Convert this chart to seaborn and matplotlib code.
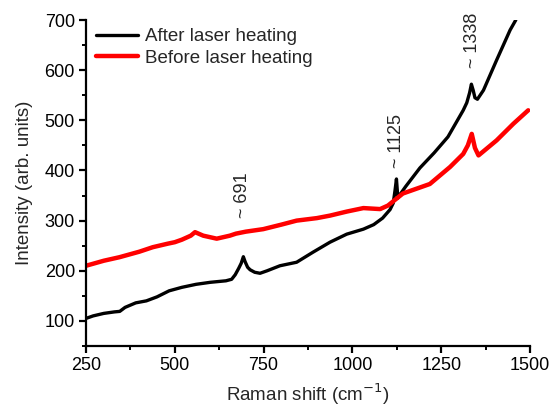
import matplotlib
matplotlib.use("Agg")
import matplotlib.pyplot as plt
from matplotlib.ticker import MultipleLocator
import seaborn as sns
import pandas as pd

after_x = [250, 270, 300, 330, 345, 360, 390, 420, 450, 484, 520, 560, 600, 644, 660, 670,
           680, 687, 693, 698, 705, 712, 725, 740, 760, 796, 843, 889, 937, 984, 1031, 1060,
           1085, 1106, 1115, 1120, 1124, 1128, 1134, 1150, 1190, 1230, 1269, 1312, 1322, 1330,
           1335, 1340, 1345, 1352, 1369, 1406, 1444, 1460]
after_y = [105, 110, 115, 118, 119, 127, 136, 140, 148, 160, 167, 173, 177, 180, 183, 192,
           205, 215, 228, 218, 207, 202, 197, 195, 200, 210, 217, 237, 257, 273, 283, 292,
           305, 322, 335, 360, 383, 345, 352, 368, 405, 435, 467, 520, 535, 555,
           572, 560, 545, 542, 560, 620, 680, 700]

before_x = [250, 300, 344, 400, 438, 480, 500, 520, 545, 557, 580, 618, 655, 672, 700, 749,
            800, 843, 900, 937, 984, 1031, 1078, 1100, 1142, 1218, 1275, 1312, 1325, 1336,
            1345, 1355, 1406, 1453, 1495]
before_y = [210, 220, 227, 238, 247, 254, 257, 262, 270, 277, 270, 264, 270, 274, 278, 283,
            292, 300, 305, 310, 318, 325, 323, 330, 354, 373, 407, 433, 450, 473,
            445, 430, 460, 493, 520]

labels = ["After laser heating", "Before laser heating"]
peak_labels = ["~ 691", "~ 1125", "~ 1338"]
peak_x = [691, 1125, 1338]
peak_y = [305, 405, 604]

sns.set_theme(style="ticks")
plt.rcParams["font.family"] = ["Liberation Sans", "DejaVu Sans"]

df_a = pd.DataFrame({"x": after_x, "y": after_y})
df_b = pd.DataFrame({"x": before_x, "y": before_y})

fig = plt.figure(figsize=(5.56, 4.07), dpi=100)
ax = fig.add_axes([86/556, 1-346/407, 444/556, 326/407])

sns.lineplot(data=df_a, x="x", y="y", ax=ax, color="black", linewidth=2.4, label=labels[0])
sns.lineplot(data=df_b, x="x", y="y", ax=ax, color="#ff0000", linewidth=3.2, label=labels[1])

ax.set_xlim(250, 1500)
ax.set_ylim(50, 700)
ax.xaxis.set_major_locator(MultipleLocator(250))
ax.xaxis.set_minor_locator(MultipleLocator(125))
ax.yaxis.set_major_locator(MultipleLocator(100))
ax.yaxis.set_minor_locator(MultipleLocator(50))
ax.set_yticks([100, 200, 300, 400, 500, 600, 700])

for s in ["top", "right"]:
    ax.spines[s].set_visible(False)
for s in ["left", "bottom"]:
    ax.spines[s].set_linewidth(1.6)
    ax.spines[s].set_color("black")
ax.tick_params(which="major", direction="out", length=5, width=1.6, labelsize=13, colors="black", pad=3)
ax.tick_params(which="minor", direction="out", length=3, width=1.4, colors="black")

ax.set_xlabel("Raman shift (cm$^{-1}$)", fontsize=13.5, labelpad=5)
ax.set_ylabel("Intensity (arb. units)", fontsize=13.5, labelpad=8)

for t, px, py in zip(peak_labels, peak_x, peak_y):
    ax.text(px, py, t, rotation=90, ha="center", va="bottom", fontsize=13, clip_on=False)

leg = ax.legend(loc="upper left", bbox_to_anchor=(0.0225, 0.975), frameon=False,
                fontsize=13.5, handlelength=2.25, handletextpad=0.35, labelspacing=0.22,
                borderaxespad=0, borderpad=0)

fig.savefig("out.png", dpi=100)
